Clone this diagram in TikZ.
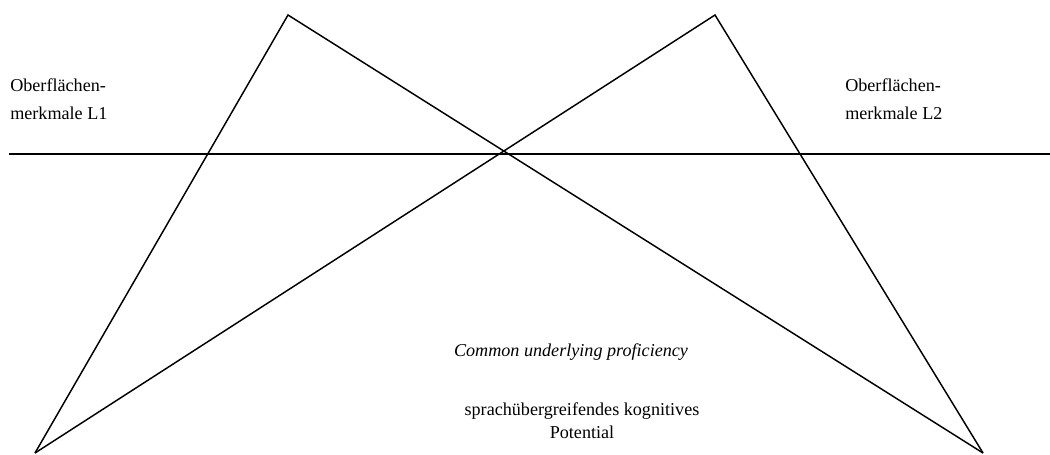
\documentclass[tikz,border=0pt]{standalone}
\usepackage{fontspec}
\setmainfont{Liberation Serif}
\begin{document}
\begin{tikzpicture}[x=0.75pt,y=-0.75pt,
  ln/.style={line width=1.1pt},
  lbl/.style={font=\fontsize{13.6}{21}\selectfont, inner sep=0pt},
  lblc/.style={font=\fontsize{13.6}{17.3}\selectfont, inner sep=0pt, align=center}]
\useasboundingbox (0,0) rectangle (1050,454);
\coordinate (LA) at (288,15);
\coordinate (RA) at (715,15);
\coordinate (LB) at (35,453);
\coordinate (RB) at (983,453);
\coordinate (HL) at (9,154);
\coordinate (HR) at (1050,154);
\draw[ln] (LB) -- (LA) -- (RB);
\draw[ln] (LB) -- (RA) -- (RB);
\draw[ln] (HL) -- (HR);
\node[lbl, align=left, anchor=west] (l1) at (10,99) {Oberflächen-\\merkmale L1};
\node[lbl, align=left, anchor=west] (l2) at (845,99) {Oberflächen-\\merkmale L2};
\node[lblc] (cup) at (571,352) {\itshape Common underlying proficiency};
\node[lblc] (skp) at (582,421) {sprachübergreifendes kognitives\\Potential};
\end{tikzpicture}
\end{document}
